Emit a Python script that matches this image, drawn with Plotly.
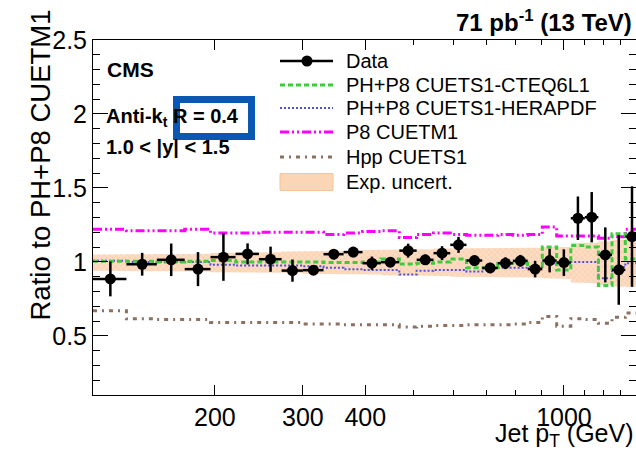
import plotly.graph_objects as go

# ---------------- data ----------------
bin_edges = [114, 133, 153, 174, 196, 220, 245, 272, 300, 330, 362, 395, 430, 468, 507,
             548, 592, 638, 686, 737, 790, 846, 905, 967, 1032, 1101, 1172, 1248, 1327, 1410]

data_ratio = [0.885, 0.984, 1.014, 0.951, 1.032, 1.054, 1.018, 0.941, 0.944, 1.052, 1.066,
              0.991, 0.998, 1.076, 1.014, 1.059, 1.115, 1.009, 0.959, 0.991, 1.007, 0.951,
              1.009, 0.995, 1.295, 1.302, 1.047, 0.946, 1.171]
data_err = [0.118, 0.077, 0.11, 0.115, 0.16, 0.071, 0.085, 0.075, 0.02, 0.035, 0.035, 0.045,
            0.03, 0.047, 0.035, 0.047, 0.054, 0.035, 0.035, 0.04, 0.04, 0.056, 0.08, 0.09,
            0.147, 0.17, 0.186, 0.236, 0.34]

cteq6l1 = [1.005, 1.005, 1.0, 1.005, 1.01, 1.0, 1.0, 1.0, 1.0, 0.995, 0.995, 1.0, 1.02, 0.985,
           0.99, 1.0, 1.02, 0.96, 0.96, 0.99, 0.99, 0.955, 1.10, 0.945, 1.11, 1.10, 0.84, 1.19, 1.02]
herapdf = [1.008, 1.0, 1.0, 1.0, 0.98, 0.975, 0.975, 0.975, 0.97, 0.96, 0.95, 0.945, 0.945,
           0.915, 0.94, 0.945, 0.945, 0.935, 0.955, 0.96, 0.96, 0.965, 0.99, 0.985, 1.0, 1.0,
           0.89, 0.965, 0.99]
p8_cuetm1 = [1.22, 1.21, 1.21, 1.22, 1.195, 1.195, 1.20, 1.20, 1.20, 1.185, 1.195, 1.205, 1.21,
             1.165, 1.185, 1.195, 1.185, 1.18, 1.18, 1.185, 1.18, 1.185, 1.235, 1.175, 1.175,
             1.175, 1.16, 1.17, 1.22]
hpp_cuets1 = [0.67, 0.615, 0.61, 0.61, 0.59, 0.59, 0.59, 0.59, 0.58, 0.58, 0.575, 0.575, 0.575,
              0.56, 0.565, 0.57, 0.57, 0.575, 0.575, 0.575, 0.58, 0.59, 0.63, 0.565, 0.615, 0.61,
              0.585, 0.625, 0.655]
unc_hi = [1.05, 1.05, 1.055, 1.055, 1.06, 1.065, 1.065, 1.07, 1.07, 1.075, 1.075, 1.08, 1.08,
          1.085, 1.085, 1.09, 1.09, 1.09, 1.09, 1.095, 1.095, 1.095, 1.1, 1.1, 1.13, 1.13, 1.14,
          1.15, 1.16]
unc_lo = [0.94, 0.94, 0.935, 0.935, 0.93, 0.93, 0.925, 0.925, 0.92, 0.92, 0.915, 0.915, 0.91,
          0.91, 0.905, 0.905, 0.9, 0.9, 0.9, 0.9, 0.895, 0.895, 0.89, 0.885, 0.86, 0.855, 0.845,
          0.835, 0.83]

legend_labels = ["Data", "PH+P8 CUETS1-CTEQ6L1", "PH+P8 CUETS1-HERAPDF", "P8 CUETM1",
                 "Hpp CUETS1", "Exp. uncert."]

y_tickvals = [0.5, 1, 1.5, 2, 2.5]
y_ticktext = ["0.5", "1", "1.5", "2", "2.5"]
x_tickvals = [200, 300, 400, 1000]
x_ticktext = ["200", "300", "400", "1000"]
x_minor_vals = [500, 600, 700, 800, 900, 1100, 1200, 1300]

# ---------------- styles ----------------
FONT = "Liberation Sans, Arial, Helvetica, sans-serif"
BAND_FILL = "#fad5b6"
STYLES = {
    "cteq": dict(color="#3ccc3c", width=3, dash="5px,3px"),
    "hera": dict(color="#5050e0", width=2, dash="2px,2px"),
    "p8": dict(color="#ff00ff", width=3, dash="9px,3px,2px,3px,2px,3px"),
    "hpp": dict(color="#8c7060", width=3, dash="4px,5px,2px,5px"),
}

# ---------------- derived ----------------
lo_e = bin_edges[:-1]
hi_e = bin_edges[1:]
centers = [(a + b) / 2 for a, b in zip(lo_e, hi_e)]
xerr_plus = [b - c for b, c in zip(hi_e, centers)]
xerr_minus = [c - a for a, c in zip(lo_e, centers)]

def step(vals):
    return list(bin_edges), list(vals) + [vals[-1]]

band_x, band_y = [], []
for a, b, h in zip(lo_e, hi_e, unc_hi):
    band_x += [a, b]
    band_y += [h, h]
for a, b, l in reversed(list(zip(lo_e, hi_e, unc_lo))):
    band_x += [b, a]
    band_y += [l, l]

fig = go.Figure()

fig.add_trace(go.Scatter(
    x=band_x, y=band_y, fill="toself", mode="lines", line=dict(width=0, color="rgba(0,0,0,0)"),
    fillcolor=BAND_FILL,
    fillpattern=dict(shape="x", fgcolor="#f2bd92", bgcolor="#fcdcc2", size=4, solidity=0.3),
    name="Exp. uncert."))

for vals, key, nm in [(hpp_cuets1, "hpp", "Hpp CUETS1"), (p8_cuetm1, "p8", "P8 CUETM1"),
                      (herapdf, "hera", "PH+P8 CUETS1-HERAPDF"),
                      (cteq6l1, "cteq", "PH+P8 CUETS1-CTEQ6L1")]:
    sx, sy = step(vals)
    fig.add_trace(go.Scatter(x=sx, y=sy, mode="lines", line_shape="hv",
                             line=STYLES[key], name=nm))

fig.add_trace(go.Scatter(
    x=centers, y=data_ratio, mode="markers",
    marker=dict(color="black", size=11),
    error_x=dict(type="data", symmetric=False, array=xerr_plus, arrayminus=xerr_minus,
                 color="black", thickness=2.5, width=0),
    error_y=dict(type="data", array=data_err, color="black", thickness=2.5, width=0),
    name="Data"))

# ---------------- layout helpers ----------------
L, R, T, B = 93, 0, 40, 55
W, H = 636, 450
pw, ph = W - L - R, H - T - B

def px(x):
    return (x - L) / pw

def py(y):
    return (H - B - y) / ph

annotations = [
    dict(text="<b>71 pb<sup>-1</sup> (13 TeV)</b>", x=px(634), y=py(21), xanchor="right",
         yanchor="middle", font=dict(size=24)),
    dict(text="<b>CMS</b>", x=px(105), y=py(69), xanchor="left", yanchor="middle",
         font=dict(size=21)),
    dict(text="<b>Anti-k<sub>t</sub> R = 0.4</b>", x=px(104), y=py(117), xanchor="left",
         yanchor="middle", font=dict(size=20)),
    dict(text="<b>1.0 < |y| < 1.5</b>", x=px(104), y=py(147), xanchor="left", yanchor="middle",
         font=dict(size=20)),
    dict(text="Jet p<sub>T</sub> (GeV)", x=px(636), y=py(435), xanchor="right",
         yanchor="middle", font=dict(size=25)),
    dict(text="Ratio to PH+P8 CUETM1", x=px(40), y=py(8), xanchor="center", yanchor="top",
         textangle=-90, font=dict(size=27.5)),
]

# manual legend (ROOT-style)
leg_rows = [61, 85, 108, 132, 157, 182]
leg_x0, leg_x1, leg_tx = 280, 333, 344
for lab, yy in zip(legend_labels, leg_rows):
    annotations.append(dict(text=lab, x=px(leg_tx), y=py(yy), xanchor="left",
                            yanchor="middle", font=dict(size=20)))
for a in annotations:
    a.update(xref="paper", yref="paper", showarrow=False)

shapes = [dict(type="rect", x0=px(176.5), x1=px(251.5), y0=py(136.5), y1=py(99.5),
               line=dict(color="#0a58b4", width=7), layer="above")]
# legend symbols
shapes.append(dict(type="line", x0=px(leg_x0), x1=px(leg_x1), y0=py(leg_rows[0]),
                   y1=py(leg_rows[0]), line=dict(color="black", width=2.5)))
shapes.append(dict(type="circle", x0=px(301.5), x1=px(312.5), y0=py(leg_rows[0] + 5.5),
                   y1=py(leg_rows[0] - 5.5), fillcolor="black", line=dict(width=0)))
for key, yy in zip(["cteq", "hera", "p8", "hpp"], leg_rows[1:5]):
    shapes.append(dict(type="line", x0=px(leg_x0), x1=px(leg_x1), y0=py(yy), y1=py(yy),
                       line=STYLES[key]))
shapes.append(dict(type="rect", x0=px(leg_x0), x1=px(leg_x1), y0=py(leg_rows[5] + 8.5),
                   y1=py(leg_rows[5] - 8.5), fillcolor=BAND_FILL,
                   line=dict(color="#f4c49c", width=1)))
for s in shapes:
    s.update(xref="paper", yref="paper")

fig.update_layout(
    width=W, height=H,
    margin=dict(l=L, r=R, t=T, b=B, pad=0),
    paper_bgcolor="white", plot_bgcolor="white",
    font=dict(family=FONT, color="black"),
    annotations=annotations,
    shapes=shapes,
    showlegend=False,
    xaxis=dict(type="log", range=[2.05690, 3.14426], showgrid=False, zeroline=False,
               showline=True, linecolor="black", linewidth=1, mirror="ticks",
               ticks="inside", ticklen=10, tickcolor="black",
               tickmode="array", tickvals=x_tickvals, ticktext=x_ticktext,
               tickfont=dict(size=25),
               minor=dict(ticks="inside", ticklen=5, tickcolor="black",
                          tickmode="array", tickvals=x_minor_vals, showgrid=False)),
    yaxis=dict(range=[0.1, 2.5], showgrid=False, zeroline=False,
               showline=True, linecolor="black", linewidth=1, mirror="ticks",
               ticks="inside", ticklen=15, tickcolor="black",
               tickmode="array", tickvals=y_tickvals, ticktext=y_ticktext,
               tickfont=dict(size=25),
               minor=dict(ticks="inside", ticklen=7, tickcolor="black", dtick=0.1,
                          tick0=0, showgrid=False)),
)

fig.write_html("out.html")
